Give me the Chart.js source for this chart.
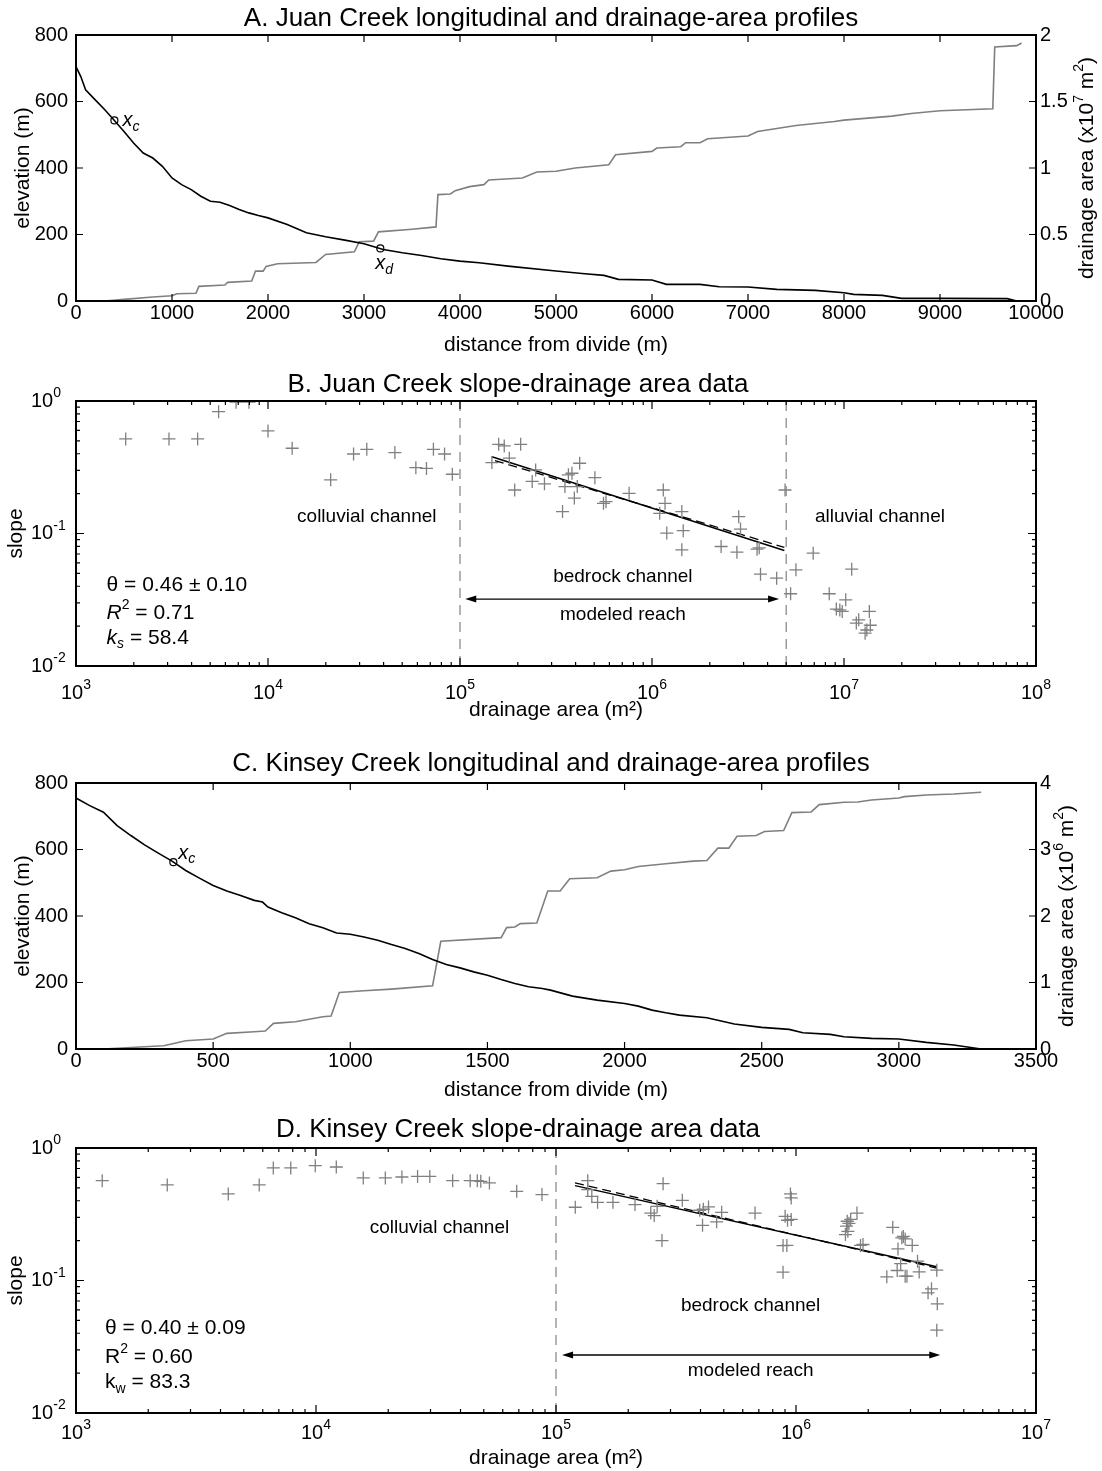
<!DOCTYPE html>
<html>
<head>
<meta charset="utf-8">
<script src="https://cdn.jsdelivr.net/npm/chart.js@4.4.1/dist/chart.umd.min.js"></script>
<style>
  body { margin: 0; background: #fff; width: 1102px; height: 1471px; position: relative; overflow: hidden; }
  canvas { position: absolute; left: 0; }
</style>
</head>
<body>
<canvas id="chartA" width="1102" height="365" style="top:0px"></canvas>
<canvas id="chartB" width="1102" height="365" style="top:365px"></canvas>
<canvas id="chartC" width="1102" height="365" style="top:745px"></canvas>
<canvas id="chartD" width="1102" height="361" style="top:1110px"></canvas>
<script>
// A. Juan Creek profile (distance m, elevation m)
const juanElevDist = [0, 50, 100, 200, 300, 400, 500, 600, 700, 800, 900, 1000, 1100, 1200, 1300, 1400, 1500, 1600, 1700, 1800,
  1900, 2000, 2200, 2400, 2600, 2800, 3000, 3200, 3400, 3600, 3800, 4000, 4200, 4500, 5000, 5300, 5500, 5650, 6000, 6150,
  6500, 6700, 7000, 7300, 7700, 8000, 8100, 8400, 8600, 9000, 9700, 9800];
const juanElev = [705, 675, 635, 605, 575, 543, 510, 475, 445, 430, 405, 370, 350, 335, 315, 300, 297, 287, 275, 265,
  257, 250, 230, 205, 193, 183, 172, 155, 145, 137, 127, 120, 115, 105, 90, 82, 77, 65, 63, 50,
  50, 43, 42, 35, 32, 25, 20, 17, 8, 8, 7, 0];
// drainage area in units of 10^7 m2
const juanAreaDist = [0, 300, 500, 800, 1000, 1050, 1250, 1280, 1550, 1580, 1830, 1870, 1950, 1980, 2100, 2500, 2600, 2900, 2950, 3100,
  3150, 3500, 3750, 3770, 3900, 3950, 4100, 4250, 4300, 4650, 4800, 5000, 5200, 5550, 5620, 6000, 6050, 6300, 6350, 6500,
  6580, 7000, 7100, 7500, 7900, 8000, 8500, 8700, 9000, 9550, 9570, 9800, 9850];
const juanArea = [0, 0, 0.0125, 0.03, 0.04, 0.055, 0.058, 0.11, 0.12, 0.14, 0.15, 0.225, 0.225, 0.26, 0.28, 0.29, 0.35, 0.37, 0.445, 0.45,
  0.52, 0.54, 0.557, 0.80, 0.805, 0.83, 0.86, 0.875, 0.91, 0.925, 0.97, 0.975, 1.0, 1.025, 1.1, 1.125, 1.15, 1.16, 1.19, 1.19,
  1.22, 1.24, 1.275, 1.32, 1.35, 1.36, 1.39, 1.41, 1.43, 1.445, 1.91, 1.92, 1.94];
const juanKnickDist = [400, 3170];
const juanKnickElev = [543, 158];

// B. Juan Creek slope vs drainage area (m2)
const juanSlopeArea = [1815, 3050, 4300, 5530, 6820, 7960, 10000, 13360, 21200, 27900, 32700, 45800, 58900, 66900, 72700, 83100, 91200,
  146600, 159000, 170000, 180700, 192700, 207000, 237700, 247800, 275400, 342000, 352000, 367000, 383000, 394000, 408000, 420000,
  504000, 559000, 576000, 760000, 1097000, 1145000, 1169000, 1194000, 1430000, 1454000, 1430000, 2291000, 2769000, 2829000, 2891000,
  3525000, 3617000, 3674000, 4458000, 4931000, 5272000, 5620000, 6910000, 8380000, 9120000, 9510000, 9790000, 10210000, 10970000,
  11590000, 11930000, 12880000, 13150000, 13550000, 13710000];
const juanSlope = [0.517, 0.517, 0.517, 0.83, 0.98, 0.98, 0.594, 0.44, 0.254, 0.398, 0.432, 0.408, 0.314, 0.31, 0.432, 0.398, 0.28,
  0.343, 0.471, 0.458, 0.37, 0.213, 0.471, 0.247, 0.302, 0.237, 0.1465, 0.226, 0.277, 0.285, 0.185, 0.226, 0.339,
  0.264, 0.169, 0.174, 0.201, 0.142, 0.213, 0.169, 0.1007, 0.1465, 0.105, 0.0753, 0.0798, 0.0723, 0.134, 0.108,
  0.0762, 0.078, 0.0493, 0.046, 0.213, 0.0351, 0.0532, 0.0711, 0.0351, 0.0269, 0.0265, 0.0258, 0.0316, 0.0538,
  0.0211, 0.0223, 0.0177, 0.0187, 0.0258, 0.0203];
const juanFitArea = [146600, 4890000];
const juanFitSlope = [0.38, 0.0745];
const juanFit2Area = [152000, 4890000];
const juanFit2Slope = [0.355, 0.0786];
const juanBreaks = [1e5, 5e6];

// C. Kinsey Creek profile
const kinElevDist = [0, 50, 100, 150, 200, 250, 300, 350, 400, 450, 500, 550, 600, 650, 680, 700, 750, 800, 850, 900, 950, 1000,
  1050, 1100, 1150, 1200, 1250, 1300, 1350, 1400, 1450, 1500, 1550, 1600, 1650, 1700, 1730, 1810, 1900, 2000, 2050, 2100,
  2150, 2200, 2300, 2400, 2500, 2600, 2650, 2750, 2800, 2900, 3000, 3100, 3200, 3300];
const kinElev = [755, 732, 712, 672, 642, 614, 589, 565, 537, 514, 492, 475, 462, 447, 442, 427, 410, 395, 377, 365, 349, 345,
  337, 327, 314, 302, 287, 269, 254, 244, 232, 222, 209, 197, 187, 182, 177, 159, 147, 137, 129, 117,
  109, 102, 94, 75, 65, 59, 49, 44, 37, 32, 30, 20, 12, 0];
// drainage area in units of 10^6 m2
const kinAreaDist = [0, 100, 300, 320, 400, 500, 550, 650, 690, 720, 800, 900, 930, 960, 1050, 1150, 1300, 1330, 1550, 1570,
  1600, 1620, 1680, 1720, 1765, 1800, 1900, 1950, 2000, 2050, 2150, 2250, 2300, 2340, 2380, 2410, 2480, 2510, 2580, 2610,
  2680, 2710, 2800, 2850, 2900, 3000, 3020, 3100, 3200, 3300];
const kinArea = [0, 0, 0.045, 0.05, 0.125, 0.15, 0.235, 0.26, 0.27, 0.385, 0.41, 0.485, 0.495, 0.85, 0.875, 0.9, 0.95, 1.62, 1.675, 1.825,
  1.835, 1.885, 1.895, 2.375, 2.375, 2.56, 2.575, 2.675, 2.695, 2.745, 2.785, 2.825, 2.835, 3.02, 3.02, 3.2, 3.21, 3.27, 3.285, 3.555,
  3.565, 3.675, 3.71, 3.715, 3.745, 3.775, 3.795, 3.82, 3.835, 3.86];
const kinKnickDist = [355];
const kinKnickElev = [562];

// D. Kinsey Creek slope vs drainage area
const kinSlopeArea = [1286, 2400, 4310, 5800, 6640, 7850, 9930, 12150, 15740, 19450, 22800, 26500, 29800, 37100, 43900, 47000, 48600,
  52800, 68600, 87400, 120300, 135600, 135600, 141000, 149000, 172700, 213400, 248300, 256600, 263900, 276400, 279400, 336000,
  397000, 408000, 411000, 432000, 467000, 490000, 675000, 883000, 883000, 901000, 916000, 922000, 948000, 955000, 955000,
  1607000, 1624000, 1635000, 1645000, 1662000, 1690000, 1795000, 1857000, 1902000, 2390000, 2530000, 2640000, 2660000, 2730000,
  2760000, 2800000, 2850000, 2850000, 2900000, 3050000, 3210000, 3260000, 3550000, 3670000, 3860000, 3880000, 3860000];
const kinSlope = [0.567, 0.526, 0.45, 0.526, 0.707, 0.707, 0.736, 0.719, 0.594, 0.594, 0.604, 0.61, 0.61, 0.567, 0.567, 0.567, 0.56,
  0.545, 0.471, 0.445, 0.357, 0.567, 0.485, 0.432, 0.389, 0.389, 0.374, 0.323, 0.309, 0.363, 0.2, 0.538, 0.403,
  0.339, 0.261, 0.345, 0.359, 0.277, 0.327, 0.323, 0.1156, 0.1836, 0.305, 0.184, 0.285, 0.45, 0.42, 0.289,
  0.222, 0.257, 0.28, 0.235, 0.27, 0.289, 0.323, 0.184, 0.187, 0.1066, 0.252, 0.119, 0.173, 0.134,
  0.21, 0.215, 0.1078, 0.206, 0.1078, 0.184, 0.14, 0.116, 0.0807, 0.0865, 0.1197, 0.0667, 0.0422];
const kinFitArea = [120000, 3860000];
const kinFitSlope = [0.52, 0.127];
const kinFit2Area = [120000, 3860000];
const kinFit2Slope = [0.545, 0.124];
const kinBreaks = [1e5];

const FONT = '"Liberation Sans", Arial, Helvetica, sans-serif';
Chart.defaults.font.family = FONT;
Chart.defaults.color = '#000';
Chart.defaults.animation = false;

function pts(xs, ys) {
  return xs.map((x, i) => ({ x: x, y: ys[i] }));
}

// text with italic / sub / superscript pieces
function drawRich(ctx, x, y, parts, size, align) {
  const fontOf = p => (p.it ? 'italic ' : '') + ((p.sub || p.sup) ? Math.round(size * 0.68) : size) + 'px ' + FONT;
  let w = 0;
  parts.forEach(p => { ctx.font = fontOf(p); w += ctx.measureText(p.t).width; });
  let cx = align === 'center' ? x - w / 2 : (align === 'right' ? x - w : x);
  ctx.textAlign = 'left';
  ctx.textBaseline = 'middle';
  parts.forEach(p => {
    ctx.font = fontOf(p);
    const dy = p.sub ? size * 0.32 : (p.sup ? -size * 0.38 : 0);
    ctx.fillText(p.t, cx, y + dy);
    cx += ctx.measureText(p.t).width;
  });
}

// box round the plot and inward tick marks, MATLAB style
const framePlugin = {
  id: 'frame',
  afterDatasetsDraw(chart) {
    const { ctx, chartArea: a, scales } = chart;
    const marks = scale => {
      if (scale.type === 'logarithmic') {
        const out = [];
        const e0 = Math.round(Math.log10(scale.min)), e1 = Math.round(Math.log10(scale.max));
        for (let e = e0; e <= e1; e++) {
          for (let m = 1; m < 10; m++) {
            const v = m * Math.pow(10, e);
            if (v <= scale.max * 1.0001) out.push({ p: scale.getPixelForValue(v), len: m === 1 ? 8 : 4 });
          }
        }
        return out;
      }
      return scale.ticks.map(t => ({ p: scale.getPixelForValue(t.value), len: 7 }));
    };
    ctx.save();
    ctx.strokeStyle = '#000';
    ctx.lineWidth = 1.2;
    ctx.beginPath();
    marks(scales.x).forEach(m => {
      ctx.moveTo(m.p, a.bottom); ctx.lineTo(m.p, a.bottom - m.len);
      ctx.moveTo(m.p, a.top); ctx.lineTo(m.p, a.top + m.len);
    });
    marks(scales.y).forEach(m => {
      ctx.moveTo(a.left, m.p); ctx.lineTo(a.left + m.len, m.p);
      if (!scales.y2) { ctx.moveTo(a.right, m.p); ctx.lineTo(a.right - m.len, m.p); }
    });
    if (scales.y2) {
      marks(scales.y2).forEach(m => { ctx.moveTo(a.right, m.p); ctx.lineTo(a.right - m.len, m.p); });
    }
    ctx.stroke();
    ctx.lineWidth = 2;
    ctx.strokeRect(a.left, a.top, a.right - a.left, a.bottom - a.top);
    ctx.restore();
  }
};

// labels, arrows, power-of-ten tick labels and the right axis title
const notesPlugin = {
  id: 'notes',
  afterDraw(chart, args, opts) {
    const { ctx, chartArea: a, scales } = chart;
    const sx = scales.x, sy = scales.y;
    ctx.save();
    ctx.fillStyle = '#000';
    ctx.strokeStyle = '#000';
    (opts.texts || []).forEach(n => {
      const px = sx.getPixelForValue(n.x) + (n.dx || 0);
      const py = sy.getPixelForValue(n.y) + (n.dy || 0);
      drawRich(ctx, px, py, n.parts, n.size || 20, n.align || 'left');
    });
    (opts.arrows || []).forEach(r => {
      const x1 = sx.getPixelForValue(r.x1), x2 = sx.getPixelForValue(r.x2), y = sy.getPixelForValue(r.y);
      ctx.lineWidth = 1.3;
      ctx.beginPath(); ctx.moveTo(x1 + 6, y); ctx.lineTo(x2 - 6, y); ctx.stroke();
      [[x1, 1], [x2, -1]].forEach(([x, d]) => {
        ctx.beginPath();
        ctx.moveTo(x, y);
        ctx.lineTo(x + 11 * d, y - 3.5);
        ctx.lineTo(x + 11 * d, y + 3.5);
        ctx.closePath();
        ctx.fill();
      });
    });
    if (opts.pow) {
      const decades = s => {
        const r = [];
        for (let e = Math.round(Math.log10(s.min)); e <= Math.round(Math.log10(s.max)); e++) r.push(e);
        return r;
      };
      decades(sx).forEach(e => {
        const px = sx.getPixelForValue(Math.pow(10, e));
        drawRich(ctx, px, a.bottom + opts.pow.xDy, [{ t: '10' }, { t: String(e), sup: 1 }], 20, 'center');
      });
      decades(sy).forEach(e => {
        const py = sy.getPixelForValue(Math.pow(10, e));
        drawRich(ctx, a.left - 45, py, [{ t: '10' }, { t: String(e), sup: 1 }], 20, 'left');
      });
    }
    if (opts.rightTitle) {
      ctx.translate(opts.rightTitle.x, (a.top + a.bottom) / 2);
      ctx.rotate(-Math.PI / 2);
      drawRich(ctx, 0, 0, opts.rightTitle.parts, 21, 'center');
    }
    ctx.restore();
  }
};

function titleOpts(text, top, bottom) {
  return { display: true, text: text, color: '#000', font: { size: 26, weight: 'normal' }, padding: { top: top, bottom: bottom } };
}

function linearAxis(min, max, step, extra) {
  return Object.assign({
    type: 'linear', min: min, max: max,
    grid: { display: false, drawTicks: false },
    border: { display: false },
    ticks: { stepSize: step, color: '#000', font: { size: 20 }, autoSkip: false, maxRotation: 0, callback: v => String(v) }
  }, extra);
}

function logAxis(min, max, extra) {
  return Object.assign({
    type: 'logarithmic', min: min, max: max,
    grid: { display: false, drawTicks: false },
    border: { display: false },
    ticks: { display: false }
  }, extra);
}

function axisTitle(text, top, bottom) {
  return { display: true, text: text, color: '#000', font: { size: 21 }, padding: { top: top, bottom: bottom } };
}

function profileChart(id, cfg) {
  const x = linearAxis(0, cfg.xMax, cfg.xStep, { title: axisTitle('distance from divide (m)', 0, 7.4), afterFit: s => { s.height = cfg.xHeight; } });
  x.ticks.padding = 0;
  const y = linearAxis(0, 800, 200, { title: axisTitle('elevation (m)', 11, 0), afterFit: s => { s.width = 76; } });
  y.ticks.padding = 8;
  const y2 = linearAxis(0, cfg.areaMax, cfg.areaStep, { position: 'right', afterFit: s => { s.width = 66; } });
  y2.ticks.padding = 4;
  return new Chart(document.getElementById(id), {
    type: 'line',
    data: {
      datasets: [
        { data: pts(cfg.elevDist, cfg.elev), borderColor: '#000', borderWidth: 1.6, pointRadius: 0, yAxisID: 'y' },
        { data: pts(cfg.areaDist, cfg.area), borderColor: '#7f7f7f', borderWidth: 1.6, pointRadius: 0, yAxisID: 'y2' },
        { data: pts(cfg.knickDist, cfg.knickElev), showLine: false, pointStyle: 'circle', pointRadius: 3.5,
          pointBackgroundColor: '#fff', pointBorderColor: '#000', pointBorderWidth: 1.2, yAxisID: 'y' }
      ]
    },
    options: {
      responsive: false,
      animation: false,
      layout: { padding: 0 },
      plugins: {
        legend: { display: false },
        tooltip: { enabled: false },
        title: titleOpts(cfg.title, cfg.titleTop, cfg.titleBottom),
        notes: { texts: cfg.texts, rightTitle: cfg.rightTitle }
      },
      scales: { x: x, y: y, y2: y2 }
    },
    plugins: [framePlugin, notesPlugin]
  });
}

function slopeChart(id, cfg) {
  const datasets = cfg.breaks.map(b => ({
    data: pts([b, b], [0.01, 1]), showLine: true, borderColor: '#8c8c8c', borderWidth: 1.3, borderDash: [10, 7], pointRadius: 0
  }));
  datasets.push({ data: pts(cfg.area, cfg.slope), pointStyle: 'cross', pointRadius: 6.5, borderColor: '#808080', borderWidth: 1.3 });
  datasets.push({ data: pts(cfg.fitArea, cfg.fitSlope), showLine: true, borderColor: '#000', borderWidth: 1.5, pointRadius: 0 });
  datasets.push({ data: pts(cfg.fit2Area, cfg.fit2Slope), showLine: true, borderColor: '#000', borderWidth: 1.3, borderDash: [9, 5], pointRadius: 0 });
  return new Chart(document.getElementById(id), {
    type: 'scatter',
    data: { datasets: datasets },
    options: {
      responsive: false,
      animation: false,
      layout: { padding: { right: 66 } },
      plugins: {
        legend: { display: false },
        tooltip: { enabled: false },
        title: titleOpts(cfg.title, cfg.titleTop, cfg.titleBottom),
        notes: { texts: cfg.texts, arrows: cfg.arrows, pow: cfg.pow }
      },
      scales: {
        x: logAxis(1e3, cfg.xMax, { title: axisTitle('drainage area (m²)', 0, cfg.xTitleBottom), afterFit: s => { s.height = cfg.xHeight; } }),
        y: logAxis(0.01, 1, { title: axisTitle('slope', 4, 0), afterFit: s => { s.width = 76; } })
      }
    },
    plugins: [framePlugin, notesPlugin]
  });
}

profileChart('chartA', {
  title: 'A. Juan Creek longitudinal and drainage-area profiles', titleTop: 3.4, titleBottom: 0.4,
  xMax: 10000, xStep: 1000, xHeight: 64, areaMax: 2, areaStep: 0.5,
  elevDist: juanElevDist, elev: juanElev, areaDist: juanAreaDist, area: juanArea,
  knickDist: juanKnickDist, knickElev: juanKnickElev,
  texts: [
    { x: juanKnickDist[0], y: juanKnickElev[0], dx: 8, dy: 0, parts: [{ t: 'x', it: 1 }, { t: 'c', it: 1, sub: 1 }] },
    { x: juanKnickDist[1], y: juanKnickElev[1], dx: -5, dy: 15, parts: [{ t: 'x', it: 1 }, { t: 'd', it: 1, sub: 1 }] }
  ],
  rightTitle: { x: 1087, parts: [{ t: 'drainage area (x10' }, { t: '7', sup: 1 }, { t: ' m' }, { t: '2', sup: 1 }, { t: ')' }] }
});

slopeChart('chartB', {
  title: 'B. Juan Creek slope-drainage area data', titleTop: 4.4, titleBottom: 0.4,
  xMax: 1e8, xHeight: 64, xTitleBottom: 7.4, pow: { xDy: 27 },
  area: juanSlopeArea, slope: juanSlope, breaks: juanBreaks,
  fitArea: juanFitArea, fitSlope: juanFitSlope, fit2Area: juanFit2Area, fit2Slope: juanFit2Slope,
  arrows: [{ x1: 1.065e5, x2: 4.59e6, y: 0.032 }],
  texts: [
    { x: 32700, y: 0.134, align: 'center', size: 19, parts: [{ t: 'colluvial channel' }] },
    { x: 705000, y: 0.0474, align: 'center', size: 19, parts: [{ t: 'bedrock channel' }] },
    { x: 705000, y: 0.0244, align: 'center', size: 19, parts: [{ t: 'modeled reach' }] },
    { x: 1.54e7, y: 0.134, align: 'center', size: 19, parts: [{ t: 'alluvial channel' }] },
    { x: 1443, y: 0.041, size: 21, parts: [{ t: 'θ = 0.46 ± 0.10' }] },
    { x: 1443, y: 0.0251, size: 21, parts: [{ t: 'R', it: 1 }, { t: '2', sup: 1 }, { t: ' = 0.71' }] },
    { x: 1443, y: 0.0163, size: 21, parts: [{ t: 'k', it: 1 }, { t: 's', it: 1, sub: 1 }, { t: ' = 58.4' }] }
  ]
});

profileChart('chartC', {
  title: 'C. Kinsey Creek longitudinal and drainage-area profiles', titleTop: 3.4, titleBottom: 3.4,
  xMax: 3500, xStep: 500, xHeight: 61, areaMax: 4, areaStep: 1,
  elevDist: kinElevDist, elev: kinElev, areaDist: kinAreaDist, area: kinArea,
  knickDist: kinKnickDist, knickElev: kinKnickElev,
  texts: [
    { x: kinKnickDist[0], y: kinKnickElev[0], dx: 5, dy: -9, parts: [{ t: 'x', it: 1 }, { t: 'c', it: 1, sub: 1 }] }
  ],
  rightTitle: { x: 1067, parts: [{ t: 'drainage area (x10' }, { t: '6', sup: 1 }, { t: ' m' }, { t: '2', sup: 1 }, { t: ')' }] }
});

slopeChart('chartD', {
  title: 'D. Kinsey Creek slope-drainage area data', titleTop: 4.4, titleBottom: 2.4,
  xMax: 1e7, xHeight: 58, xTitleBottom: 0.4, pow: { xDy: 20 },
  area: kinSlopeArea, slope: kinSlope, breaks: kinBreaks,
  fitArea: kinFitArea, fitSlope: kinFitSlope, fit2Area: kinFit2Area, fit2Slope: kinFit2Slope,
  arrows: [{ x1: 1.06e5, x2: 3.99e6, y: 0.0274 }],
  texts: [
    { x: 32700, y: 0.252, align: 'center', size: 19, parts: [{ t: 'colluvial channel' }] },
    { x: 647000, y: 0.064, align: 'center', size: 19, parts: [{ t: 'bedrock channel' }] },
    { x: 647000, y: 0.021, align: 'center', size: 19, parts: [{ t: 'modeled reach' }] },
    { x: 1321, y: 0.044, size: 21, parts: [{ t: 'θ = 0.40 ± 0.09' }] },
    { x: 1321, y: 0.0264, size: 21, parts: [{ t: 'R' }, { t: '2', sup: 1 }, { t: ' = 0.60' }] },
    { x: 1321, y: 0.0171, size: 21, parts: [{ t: 'k' }, { t: 'w', sub: 1 }, { t: ' = 83.3' }] }
  ]
});
</script>
</body>
</html>
